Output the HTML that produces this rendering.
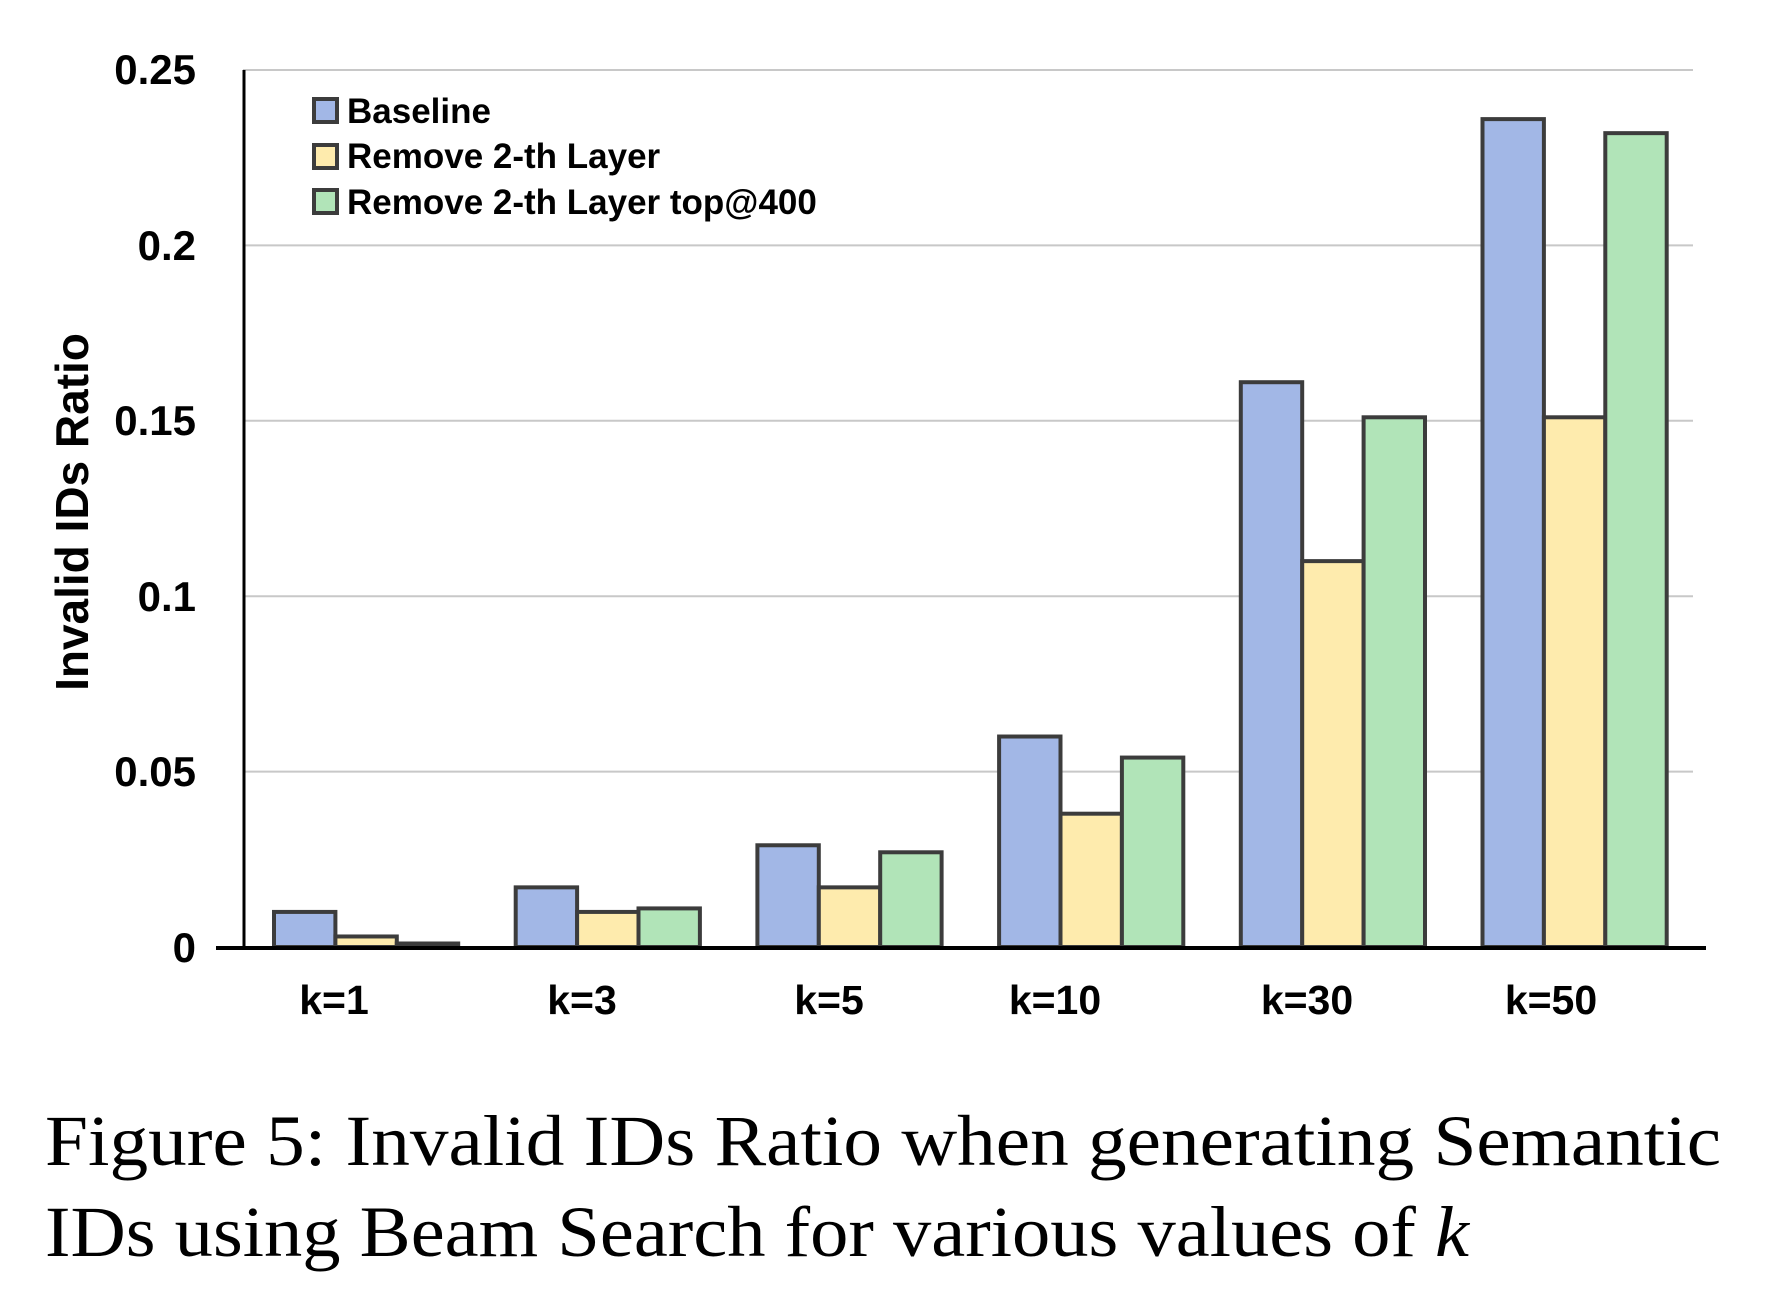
<!DOCTYPE html>
<html><head><meta charset="utf-8"><style>body{margin:0;background:#fff}svg{display:block}</style></head>
<body>
<svg width="1773" height="1297" viewBox="0 0 1773 1297" xmlns="http://www.w3.org/2000/svg" font-family="'Liberation Sans', sans-serif">
<g stroke="#c8c8c8" stroke-width="2">
<line x1="243" y1="70" x2="1693" y2="70"/>
<line x1="243" y1="245.4" x2="1693" y2="245.4"/>
<line x1="243" y1="420.8" x2="1693" y2="420.8"/>
<line x1="243" y1="596.2" x2="1693" y2="596.2"/>
<line x1="243" y1="771.6" x2="1693" y2="771.6"/>
</g>
<line x1="244" y1="70" x2="244" y2="948" stroke="#000" stroke-width="3"/>
<g font-weight="bold" font-size="42" text-anchor="end" fill="#000">
<text x="196" y="84">0.25</text>
<text x="196" y="260">0.2</text>
<text x="196" y="435">0.15</text>
<text x="196" y="611">0.1</text>
<text x="196" y="786">0.05</text>
<text x="196" y="962">0</text>
</g>
<text transform="translate(88,512) rotate(-90)" text-anchor="middle" font-weight="bold" font-size="46">Invalid IDs Ratio</text>
<g stroke="#3c3c3c" stroke-width="4" id="bars"></g>
<line x1="216" y1="948" x2="1706" y2="948" stroke="#000" stroke-width="4"/>
<g font-weight="bold" font-size="41" text-anchor="middle" id="xl"></g>
<g font-weight="bold" font-size="35">
<rect x="314" y="99" width="23" height="23" fill="#a2b7e6" stroke="#3c3c3c" stroke-width="4"/>
<rect x="314" y="145" width="23" height="23" fill="#feebad" stroke="#3c3c3c" stroke-width="4"/>
<rect x="314" y="190" width="23" height="23" fill="#b1e4b8" stroke="#3c3c3c" stroke-width="4"/>
<text x="347" y="123">Baseline</text>
<text x="347" y="168">Remove 2-th Layer</text>
<text x="347" y="214">Remove 2-th Layer top@400</text>
</g>
<g font-family="'Liberation Serif', serif" font-size="72" fill="#000">
<text x="45" y="1165" textLength="1676" lengthAdjust="spacingAndGlyphs">Figure 5: Invalid IDs Ratio when generating Semantic</text>
<text x="45" y="1256" textLength="1424" lengthAdjust="spacingAndGlyphs">IDs using Beam Search for various values of <tspan font-style="italic">k</tspan></text>
</g>
<script>
var d=[[.010,.003,.001],[.017,.010,.011],[.029,.017,.027],[.060,.038,.054],[.161,.110,.151],[.236,.151,.232]];
var c=["#a2b7e6","#feebad","#b1e4b8"],L=["k=1","k=3","k=5","k=10","k=30","k=50"],LX=[334,582,829,1055,1307,1551];
var g=document.getElementById("bars"),x=document.getElementById("xl"),ns="http://www.w3.org/2000/svg";
d.forEach(function(r,i){var s=274+i*241.7;r.forEach(function(v,j){var h=v/0.05*175.4;var e=document.createElementNS(ns,"rect");e.setAttribute("x",s+j*61.4);e.setAttribute("y",947-h);e.setAttribute("width",61.4);e.setAttribute("height",h);e.setAttribute("fill",c[j]);g.appendChild(e);});
var t=document.createElementNS(ns,"text");t.setAttribute("x",LX[i]);t.setAttribute("y",1014);t.textContent=L[i];x.appendChild(t);});
</script>
</svg>
</body></html>
